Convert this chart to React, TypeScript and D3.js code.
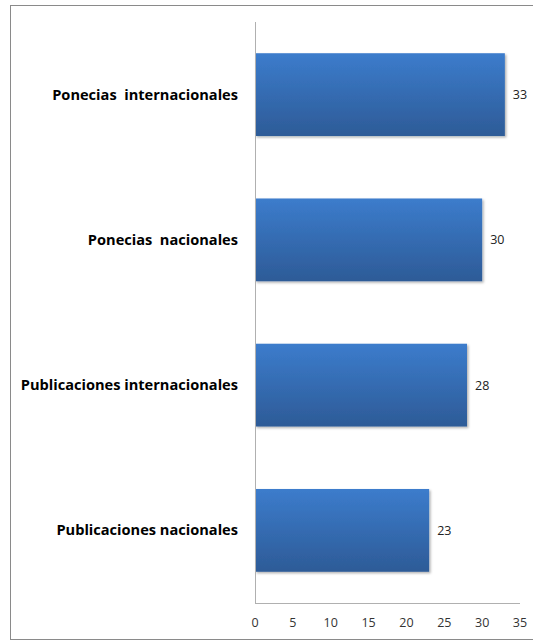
import React from "react";
import * as d3 from "d3";

const categories = ["Ponecias  internacionales", "Ponecias  nacionales", "Publicaciones internacionales", "Publicaciones nacionales"];
const values = [33, 30, 28, 23];
const ticks = [0, 5, 10, 15, 20, 25, 30, 35];

export default function App() {
  const W = 533, H = 641;
  const x = d3.scaleLinear().domain([0, 35]).range([255, 520]);
  const y = d3.scaleBand().domain(categories).range([22, 603]).paddingInner(0.43).paddingOuter(0.215);
  return (
    <svg width={W} height={H} style={{ position: "absolute", left: 0, top: 0, background: "#fff" }}>
      <defs>
        <linearGradient id="bg" x1="0" y1="0" x2="0" y2="1">
          <stop offset="0" stopColor="#3c7ccc" />
          <stop offset="1" stopColor="#2d5b97" />
        </linearGradient>
        <filter id="sh" x="-5%" y="-5%" width="115%" height="120%">
          <feDropShadow dx="1.5" dy="1.5" stdDeviation="1.2" floodColor="#000" floodOpacity="0.3" />
        </filter>
      </defs>
      <rect x={10.5} y={5.5} width={540} height={634} fill="#fff" stroke="#8a8a8a" strokeWidth={1} />
      {categories.map((c, i) => (
        <g key={c}>
          <rect x={x(0)} y={y(c)} width={x(values[i]) - x(0)} height={y.bandwidth()} fill="url(#bg)" filter="url(#sh)" />
          <text x={x(values[i]) + 8} y={y(c)! + y.bandwidth() / 2} dy="0.35em" fontFamily="Open Sans, sans-serif" fontSize={12.5} fill="#222">{values[i]}</text>
          <text x={238} y={y(c)! + y.bandwidth() / 2} dy="0.35em" textAnchor="end" fontFamily="Open Sans, sans-serif" fontWeight="bold" fontSize={14.6} fill="#000" style={{ whiteSpace: "pre" }}>{c}</text>
        </g>
      ))}
      <line x1={255.5} x2={255.5} y1={22} y2={603.5} stroke="#b0b0b0" />
      <line x1={255} x2={520} y1={603.5} y2={603.5} stroke="#b0b0b0" />
      {ticks.map(t => (
        <text key={t} x={x(t)} y={623} dy="0.35em" textAnchor="middle" fontFamily="Open Sans, sans-serif" fontSize={12.5} fill="#333">{t}</text>
      ))}
    </svg>
  );
}
